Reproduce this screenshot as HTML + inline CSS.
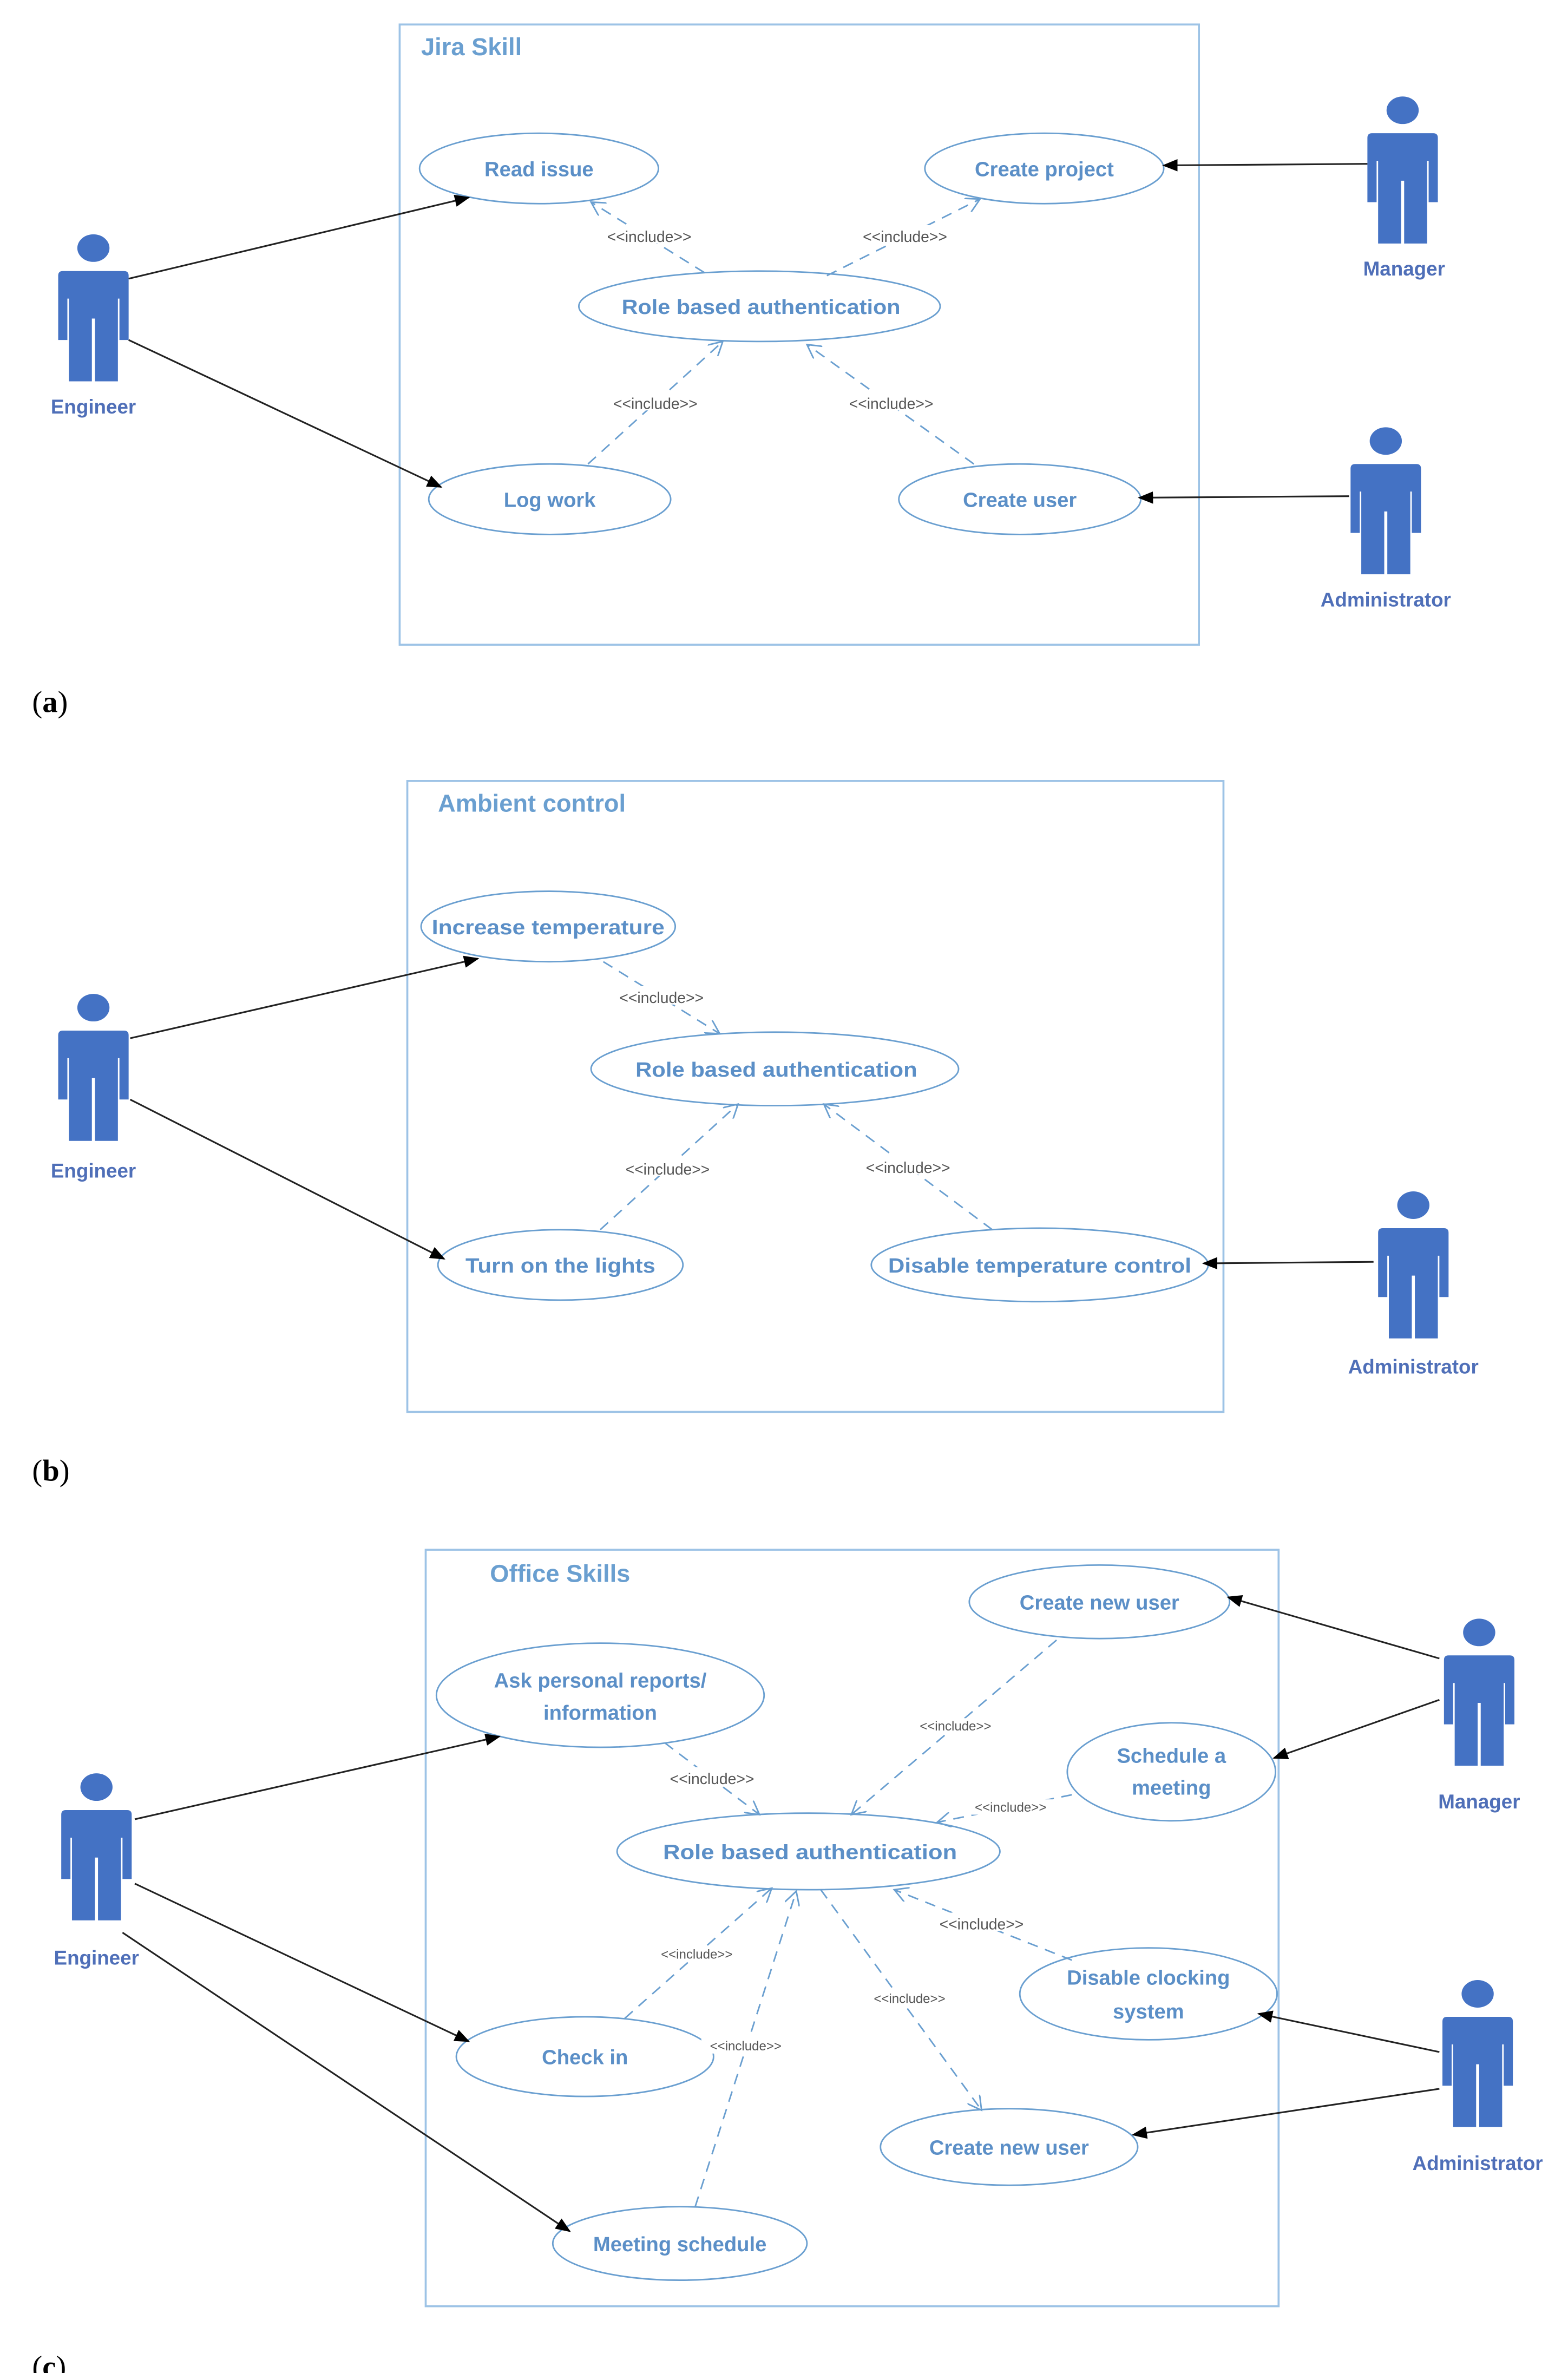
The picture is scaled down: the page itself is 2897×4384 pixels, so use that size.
<!DOCTYPE html>
<html><head><meta charset="utf-8"><style>
html,body{margin:0;padding:0;background:#fff}
svg{display:block}
.uc{fill:#fff;stroke:#6a9fd0;stroke-width:1}
.ut{font-family:"Liberation Sans",sans-serif;font-weight:bold;font-size:13.5px;fill:#5b8fc7;text-anchor:middle}
.inc{font-family:"Liberation Sans",sans-serif;font-size:10px;fill:#555;text-anchor:middle}
.incs{font-family:"Liberation Sans",sans-serif;font-size:8.5px;fill:#555;text-anchor:middle}
.box{fill:none;stroke:#9dc3e6;stroke-width:1.3}
.ttl{font-family:"Liberation Sans",sans-serif;font-weight:bold;font-size:16px;fill:#6a9fd0}
.act{fill:#4472c4}
.an{font-family:"Liberation Sans",sans-serif;font-weight:bold;font-size:13px;fill:#4f6fb8;text-anchor:middle}
.sol{stroke:#222;stroke-width:1.1;fill:none;marker-end:url(#fa)}
.dsh{stroke:#6a9fd0;stroke-width:1;stroke-dasharray:7,5;fill:none;marker-end:url(#oa)}
.lab{font-family:"Liberation Serif",serif;font-size:20px;fill:#000}
</style></head><body>
<svg width="2897" height="4384" viewBox="0 0 1024 1549.6" preserveAspectRatio="none" xmlns="http://www.w3.org/2000/svg">
<defs>
<marker id="fa" markerWidth="10" markerHeight="8" refX="9" refY="4" orient="auto" markerUnits="userSpaceOnUse"><path d="M0,0 L10,4 L0,8 z" fill="#000"/></marker>
<marker id="oa" markerWidth="10" markerHeight="10" refX="9" refY="5" orient="auto" markerUnits="userSpaceOnUse"><path d="M0,0 L9,5 L0,10" fill="none" stroke="#6a9fd0" stroke-width="1"/></marker>
<g id="actor">
<ellipse cx="0" cy="9" rx="10.5" ry="9" class="act"/>
<path class="act" d="M-20,24 Q-23,24 -23,27 L-23,69 L-17,69 L-17,42 L-16,42 L-16,96 L-1,96 L-1,55 L1,55 L1,96 L16,96 L16,42 L17,42 L17,69 L23,69 L23,27 Q23,24 20,24 Z"/>
</g>
</defs>

<!-- (a) -->
<rect class="box" x="261" y="16" width="522" height="405"/>
<text class="ttl" x="275" y="36">Jira Skill</text>
<ellipse class="uc" cx="352" cy="110" rx="78" ry="23"/><text class="ut" x="352" y="115">Read issue</text>
<ellipse class="uc" cx="682" cy="110" rx="78" ry="23"/><text class="ut" x="682" y="115">Create project</text>
<ellipse class="uc" cx="496" cy="200" rx="118" ry="23"/><text class="ut" x="497" y="205" textLength="182" lengthAdjust="spacingAndGlyphs">Role based authentication</text>
<ellipse class="uc" cx="359" cy="326" rx="79" ry="23"/><text class="ut" x="359" y="331">Log work</text>
<ellipse class="uc" cx="666" cy="326" rx="79" ry="23"/><text class="ut" x="666" y="331">Create user</text>
<use href="#actor" x="61" y="153"/><text class="an" x="61" y="270">Engineer</text>
<use href="#actor" x="916" y="63"/><text class="an" x="917" y="180">Manager</text>
<use href="#actor" x="905" y="279"/><text class="an" x="905" y="396">Administrator</text>
<path class="sol" d="M84,182 L306,129"/>
<path class="sol" d="M84,222 L288,318"/>
<path class="sol" d="M893,107 L760,108"/>
<path class="sol" d="M881,324 L744,325"/>
<path class="dsh" d="M460,178 L386,132"/>
<path class="dsh" d="M540,180 L640,130"/>
<path class="dsh" d="M384,303 L472,223"/>
<path class="dsh" d="M636,303 L527,225"/>
<rect x="388" y="147" width="72" height="12" fill="#fff"/><text class="inc" x="424" y="158">&lt;&lt;include&gt;&gt;</text>
<rect x="555" y="147" width="72" height="12" fill="#fff"/><text class="inc" x="591" y="158">&lt;&lt;include&gt;&gt;</text>
<rect x="392" y="256" width="72" height="12" fill="#fff"/><text class="inc" x="428" y="267">&lt;&lt;include&gt;&gt;</text>
<rect x="546" y="256" width="72" height="12" fill="#fff"/><text class="inc" x="582" y="267">&lt;&lt;include&gt;&gt;</text>
<text class="lab" x="21" y="465">(<tspan font-weight="bold">a</tspan>)</text>

<!-- (b) -->
<rect class="box" x="266" y="510" width="533" height="412"/>
<text class="ttl" x="286" y="530">Ambient control</text>
<ellipse class="uc" cx="358" cy="605" rx="83" ry="23"/><text class="ut" x="358" y="610" textLength="152" lengthAdjust="spacingAndGlyphs">Increase temperature</text>
<ellipse class="uc" cx="506" cy="698" rx="120" ry="24"/><text class="ut" x="507" y="703" textLength="184" lengthAdjust="spacingAndGlyphs">Role based authentication</text>
<ellipse class="uc" cx="366" cy="826" rx="80" ry="23"/><text class="ut" x="366" y="831" textLength="124" lengthAdjust="spacingAndGlyphs">Turn on the lights</text>
<ellipse class="uc" cx="679" cy="826" rx="110" ry="24"/><text class="ut" x="679" y="831" textLength="198" lengthAdjust="spacingAndGlyphs">Disable temperature control</text>
<use href="#actor" x="61" y="649"/><text class="an" x="61" y="769">Engineer</text>
<use href="#actor" x="923" y="778"/><text class="an" x="923" y="897">Administrator</text>
<path class="sol" d="M85,678 L312,626"/>
<path class="sol" d="M85,718 L290,822"/>
<path class="sol" d="M897,824 L786,825"/>
<path class="dsh" d="M394,628 L470,675"/>
<path class="dsh" d="M392,803 L482,721"/>
<path class="dsh" d="M648,803 L538,721"/>
<rect x="396" y="644" width="72" height="12" fill="#fff"/><text class="inc" x="432" y="655">&lt;&lt;include&gt;&gt;</text>
<rect x="400" y="756" width="72" height="12" fill="#fff"/><text class="inc" x="436" y="767">&lt;&lt;include&gt;&gt;</text>
<rect x="557" y="755" width="72" height="12" fill="#fff"/><text class="inc" x="593" y="766">&lt;&lt;include&gt;&gt;</text>
<text class="lab" x="21" y="967">(<tspan font-weight="bold">b</tspan>)</text>

<!-- (c) -->
<rect class="box" x="278" y="1012" width="557" height="494"/>
<text class="ttl" x="320" y="1033">Office Skills</text>
<ellipse class="uc" cx="718" cy="1046" rx="85" ry="24"/><text class="ut" x="718" y="1051">Create new user</text>
<ellipse class="uc" cx="392" cy="1107" rx="107" ry="34"/><text class="ut" x="392" y="1102">Ask personal reports/</text><text class="ut" x="392" y="1123">information</text>
<ellipse class="uc" cx="765" cy="1157" rx="68" ry="32"/><text class="ut" x="765" y="1151">Schedule a</text><text class="ut" x="765" y="1172">meeting</text>
<ellipse class="uc" cx="528" cy="1209" rx="125" ry="25"/><text class="ut" x="529" y="1214" textLength="192" lengthAdjust="spacingAndGlyphs">Role based authentication</text>
<ellipse class="uc" cx="750" cy="1302" rx="84" ry="30"/><text class="ut" x="750" y="1296">Disable clocking</text><text class="ut" x="750" y="1318">system</text>
<ellipse class="uc" cx="382" cy="1343" rx="84" ry="26"/><text class="ut" x="382" y="1348">Check in</text>
<ellipse class="uc" cx="659" cy="1402" rx="84" ry="25"/><text class="ut" x="659" y="1407">Create new user</text>
<ellipse class="uc" cx="444" cy="1465" rx="83" ry="24"/><text class="ut" x="444" y="1470">Meeting schedule</text>
<use href="#actor" x="63" y="1158"/><text class="an" x="63" y="1283">Engineer</text>
<use href="#actor" x="966" y="1057"/><text class="an" x="966" y="1181">Manager</text>
<use href="#actor" x="965" y="1293"/><text class="an" x="965" y="1417">Administrator</text>
<path class="sol" d="M88,1188 L326,1134"/>
<path class="sol" d="M88,1230 L306,1333"/>
<path class="sol" d="M80,1262 L372,1457"/>
<path class="sol" d="M940,1083 L802,1043"/>
<path class="sol" d="M940,1110 L832,1148"/>
<path class="sol" d="M940,1340 L822,1315"/>
<path class="sol" d="M940,1364 L740,1394"/>
<path class="dsh" d="M434,1138 L496,1185"/>
<path class="dsh" d="M690,1071 L556,1185"/>
<path class="dsh" d="M700,1172 L612,1190"/>
<path class="dsh" d="M700,1280 L584,1234"/>
<path class="dsh" d="M536,1234 L641,1378"/>
<path class="dsh" d="M408,1318 L504,1233"/>
<path class="dsh" d="M454,1441 L520,1235"/>
<rect x="428" y="1154" width="74" height="12" fill="#fff"/><text class="inc" x="465" y="1165">&lt;&lt;include&gt;&gt;</text>
<rect x="595" y="1122" width="58" height="10" fill="#fff"/><text class="incs" x="624" y="1130">&lt;&lt;include&gt;&gt;</text>
<rect x="631" y="1175" width="58" height="10" fill="#fff"/><text class="incs" x="660" y="1183">&lt;&lt;include&gt;&gt;</text>
<rect x="604" y="1249" width="74" height="12" fill="#fff"/><text class="inc" x="641" y="1260">&lt;&lt;include&gt;&gt;</text>
<rect x="565" y="1300" width="58" height="10" fill="#fff"/><text class="incs" x="594" y="1308">&lt;&lt;include&gt;&gt;</text>
<rect x="426" y="1271" width="58" height="10" fill="#fff"/><text class="incs" x="455" y="1279">&lt;&lt;include&gt;&gt;</text>
<rect x="458" y="1331" width="58" height="10" fill="#fff"/><text class="incs" x="487" y="1339">&lt;&lt;include&gt;&gt;</text>
<text class="lab" x="21" y="1552">(<tspan font-weight="bold">c</tspan>)</text>
</svg>
</body></html>
